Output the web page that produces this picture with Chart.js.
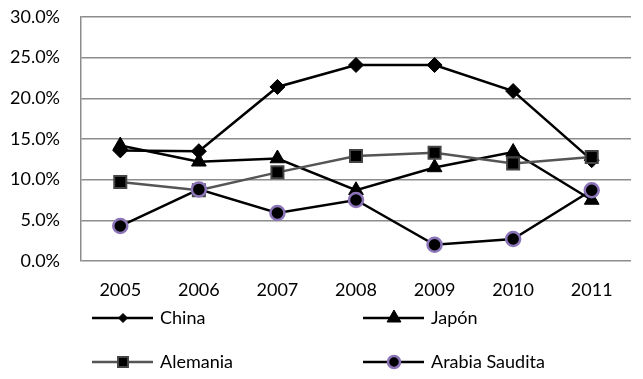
<!DOCTYPE html>
<html>
<head>
<meta charset="utf-8">
<script src="https://cdn.jsdelivr.net/npm/chart.js@4"></script>
<style>
    html, body { margin: 0; padding: 0; background: #fff; }
    #wrap { width: 643px; height: 379px; position: relative; }
</style>
</head>
<body>
<div id="wrap"><canvas id="shareChart"></canvas></div>
<script>
// Years on the x axis
const years = ['2005', '2006', '2007', '2008', '2009', '2010', '2011'];

// Series values, in percent
const china = [13.6, 13.5, 21.4, 24.1, 24.1, 20.9, 12.4];
const japon = [14.2, 12.2, 12.6, 8.7, 11.5, 13.4, 7.5];
const alemania = [9.7, 8.7, 10.9, 12.9, 13.3, 12.0, 12.8];
const arabia = [4.3, 8.8, 5.9, 7.5, 2.0, 2.7, 8.7];

const seriesNames = ['China', 'Japón', 'Alemania', 'Arabia Saudita'];

const FONT = 'Lato, "Open Sans", sans-serif';

// where each legend entry goes (two columns, two rows)
const legendCols = [92, 363];
const legendRows = [318, 362];

const legendSizes = [4.5, 8, 7, 6];

// draws the legend like Excel does: line with the marker in the middle
const excelLegend = {
    id: 'excelLegend',
    afterDraw(chart) {
        const ctx = chart.ctx;
        chart.data.datasets.forEach((ds, i) => {
            const x0 = legendCols[i % 2];
            const y = legendRows[Math.floor(i / 2)];
            ctx.save();
            ctx.strokeStyle = ds.borderColor;
            ctx.lineWidth = ds.borderWidth;
            ctx.beginPath();
            ctx.moveTo(x0, y);
            ctx.lineTo(x0 + 61, y);
            ctx.stroke();

            ctx.fillStyle = ds.pointBackgroundColor;
            ctx.strokeStyle = ds.pointBorderColor;
            ctx.lineWidth = ds.pointBorderWidth;
            Chart.helpers.drawPoint(ctx, {
                pointStyle: ds.pointStyle,
                radius: legendSizes[i],
                rotation: 0,
                borderWidth: ds.pointBorderWidth
            }, x0 + 31, y);

            ctx.fillStyle = '#000';
            ctx.font = '18px ' + FONT;
            ctx.textBaseline = 'middle';
            ctx.textAlign = 'left';
            ctx.fillText(seriesNames[i], x0 + 68, y);
            ctx.restore();
        });
    }
};

const ctx = document.getElementById('shareChart').getContext('2d');
const shareChart = new Chart(ctx, {
    type: 'line',
    data: {
        labels: years,
        datasets: [
            {
                label: seriesNames[0],
                data: china,
                borderColor: '#000',
                borderWidth: 2.5,
                pointStyle: 'rectRot',
                pointRadius: 7.5,
                pointBackgroundColor: '#000',
                pointBorderColor: '#000',
                pointBorderWidth: 1,
                order: 4
            },
            {
                label: seriesNames[1],
                data: japon,
                borderColor: '#000',
                borderWidth: 2.5,
                pointStyle: 'triangle',
                pointRadius: 8.5,
                pointBackgroundColor: '#000',
                pointBorderColor: '#000',
                pointBorderWidth: 1,
                order: 3
            },
            {
                label: seriesNames[2],
                data: alemania,
                borderColor: '#555',
                borderWidth: 2.5,
                pointStyle: 'rect',
                pointRadius: 8.5,
                pointBackgroundColor: '#000',
                pointBorderColor: '#444',
                pointBorderWidth: 2,
                order: 2
            },
            {
                label: seriesNames[3],
                data: arabia,
                borderColor: '#000',
                borderWidth: 2.5,
                pointStyle: 'circle',
                pointRadius: 7,
                pointBackgroundColor: '#000',
                pointBorderColor: '#8c74b8',
                pointBorderWidth: 2.5,
                order: 1
            }
        ]
    },
    options: {
        responsive: true,
        maintainAspectRatio: false,
        animation: false,
        layout: {
            autoPadding: false,
            padding: { top: 17, right: 12, left: 0, bottom: 0 }
        },
        plugins: {
            legend: { display: false },
            tooltip: { enabled: false }
        },
        scales: {
            x: {
                offset: true,
                grid: { display: false, drawTicks: false, offset: true },
                border: { display: false },
                ticks: {
                    color: '#000',
                    padding: 18,
                    font: { family: FONT, size: 18 }
                },
                afterFit: scale => {
                    scale.height = 118;
                    // the tick padding would otherwise eat into the plot width
                    scale.paddingLeft = 0;
                    scale.paddingRight = 0;
                }
            },
            y: {
                min: 0,
                max: 30,
                grid: { color: '#8c8c8c', lineWidth: 1.5, drawTicks: false },
                border: { display: true, color: '#8c8c8c', width: 1.5 },
                ticks: {
                    stepSize: 5,
                    color: '#000',
                    padding: 21,
                    font: { family: FONT, size: 18 },
                    callback: v => v.toFixed(1) + '%'
                },
                afterFit: scale => {
                    scale.width = 81;
                    scale.paddingTop = 0;
                    scale.paddingBottom = 0;
                }
            }
        }
    },
    plugins: [excelLegend]
});
</script>
</body>
</html>
